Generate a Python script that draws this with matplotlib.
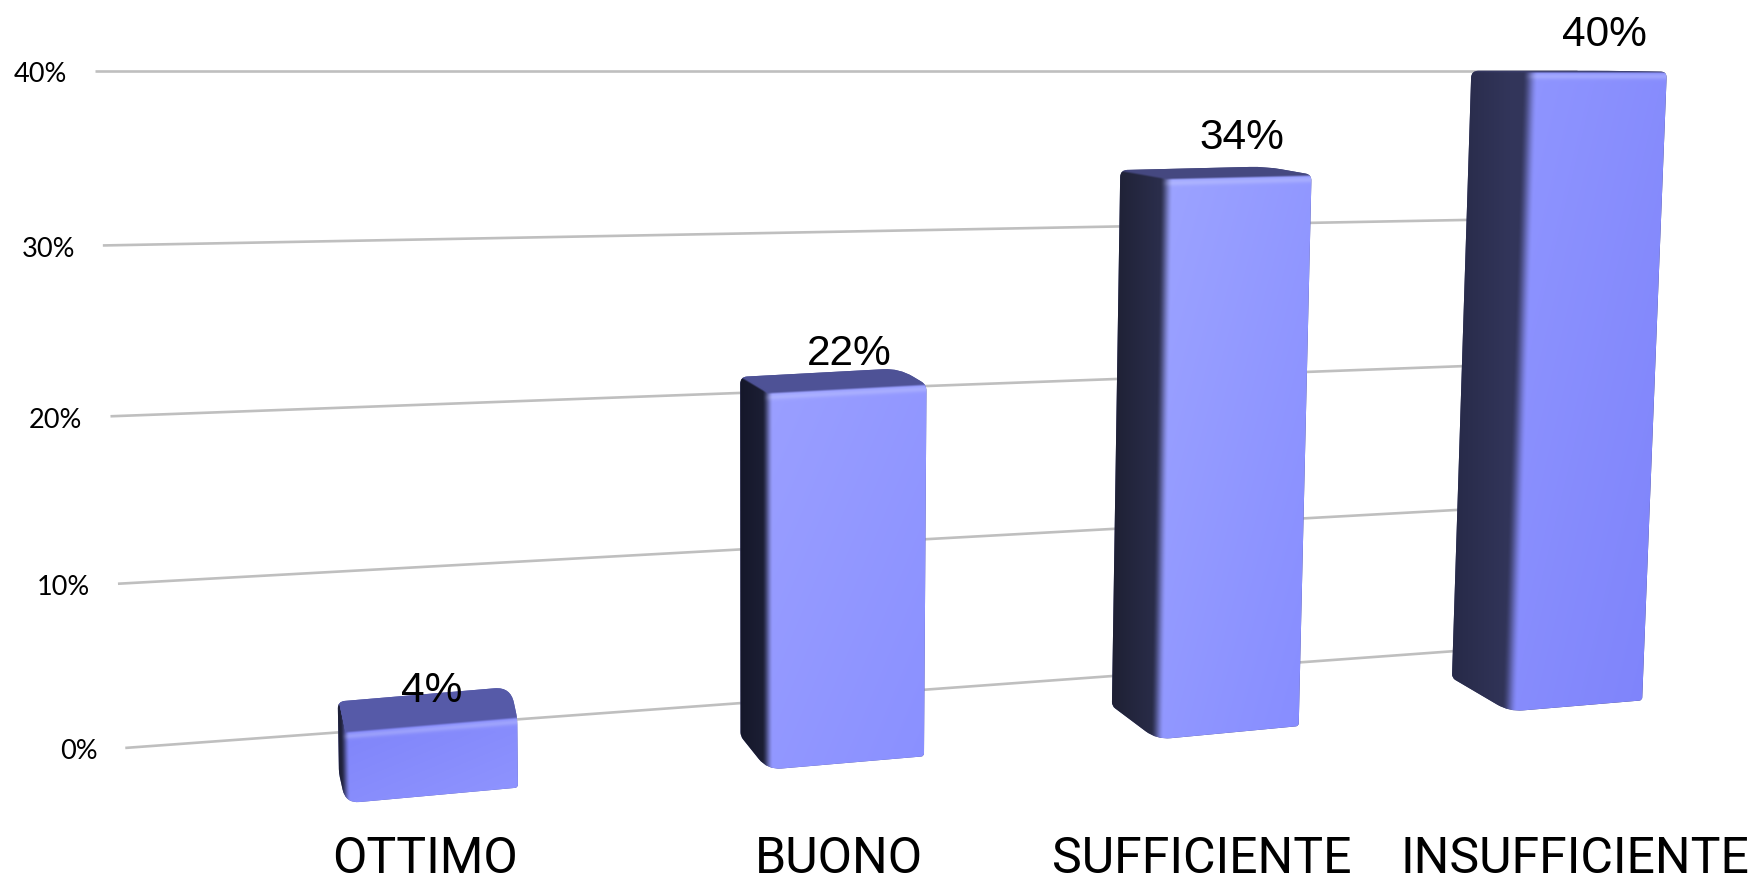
import numpy as np
import matplotlib
matplotlib.use("Agg")
import matplotlib.pyplot as plt
from matplotlib.path import Path
from matplotlib.patches import PathPatch
from matplotlib.colors import to_rgb

# ---- data ----
categories = ["OTTIMO", "BUONO", "SUFFICIENTE", "INSUFFICIENTE"]
values = [4, 22, 34, 40]
ticks = [0, 10, 20, 30, 40]

# ---- layout (perspective camera, in 1568-wide units) ----
S = 1754 / 1568
base_fl = [(309, 719), (686, 689), (1034, 662), (1349, 637)]
base_fr = [(463, 705), (826, 677), (1161, 650), (1468, 627)]
base_bl = [(303, 692), (662, 659), (994, 632), (1298, 607)]
rise_fl = [15.75, 15.3, 14.76, 14.3]
rise_fr = [15.5, 15.1, 14.5, 14.05]
rise_bl = [16.0, 14.6, 14.09, 13.57]
LEAN_C, LEAN_A = 680, 0.0007
wall_corners = {"p00": (112, 669.5), "p10": (1389, 576.5), "p01": (85, 64.5), "p11": (1410, 64.5)}
cat_x = [380, 750, 1074, 1408]
val_x = [386, 759, 1110, 1434]
val_gap = [28, 26, 27, 24]   # baseline offset above the front top edge

# ---- style ----
side_cols = [("#1e2038", "#2a2c50"), ("#15172a", "#1d2036"), ("#1e2034", "#2a2d4a"), ("#272a48", "#32355a")]
front_cols = [("#8085fa", "#9095ff"), ("#9a9fff", "#8a90ff"), ("#9ca3ff", "#878dff"), ("#8f95ff", "#7f84fb")]
top_cols = ["#565aa8", "#4e5296", "#454880", "#3a3d6a"]
soft = [8, 10, 12, 14]
GRID = "#bfbfbf"

fig = plt.figure(figsize=(17.54, 8.78), dpi=100)
ax = fig.add_axes([0, 0, 1, 1])
ax.set_xlim(0, 1754)
ax.set_ylim(878, 0)
ax.axis("off")


def homography(p00, p10, p01, p11):
    src = [(0, 0), (1, 0), (0, 1), (1, 1)]
    dst = [p00, p10, p01, p11]
    A, b = [], []
    for (u, v), (x, y) in zip(src, dst):
        A.append([u, v, 1, 0, 0, 0, -u * x, -v * x]); b.append(x)
        A.append([0, 0, 0, u, v, 1, -u * y, -v * y]); b.append(y)
    h = np.linalg.solve(np.array(A, float), np.array(b, float))
    return np.append(h, 1).reshape(3, 3)


H = homography(**wall_corners)


def wall(u, value):
    q = H @ np.array([u, value / ticks[-1], 1.0])
    return q[0] / q[2] * S, q[1] / q[2] * S


def lift(base, rise, value):
    x, y = base
    return np.array([(x + (x - LEAN_C) * LEAN_A * value) * S, (y - rise * value) * S])


def rounded(points, radii):
    verts, codes = [], []
    n = len(points)
    for i in range(n):
        p, a, c = np.array(points[i]), np.array(points[i - 1]), np.array(points[(i + 1) % n])
        la, lc = np.linalg.norm(a - p), np.linalg.norm(c - p)
        r = min(radii[i], la / 2, lc / 2)
        p0, p1 = p + (a - p) / la * r, p + (c - p) / lc * r
        verts += [p0, p, p1]
        codes += [Path.MOVETO if i == 0 else Path.LINETO, Path.CURVE3, Path.CURVE3]
    verts.append(verts[0]); codes.append(Path.CLOSEPOLY)
    return Path(np.array(verts), codes)


def sstep(t):
    t = np.clip(t, 0, 1)
    return t * t * (3 - 2 * t)


def draw_bar(i, value):
    fl0, fr0, bl0 = np.array(base_fl[i]) * S, np.array(base_fr[i]) * S, np.array(base_bl[i]) * S
    fl1 = lift(base_fl[i], rise_fl[i], value)
    fr1 = lift(base_fr[i], rise_fr[i], value)
    bl1 = lift(base_bl[i], rise_bl[i], value)
    br1 = fr1 + (bl1 - fl1)

    outline = [bl1, br1, fr1, fr0, fl0, bl0]
    path = rounded(outline, [7, 16, 6, 3, 14, 4])

    x0, x1 = min(p[0] for p in outline) - 3, max(p[0] for p in outline) + 3
    y0, y1 = min(p[1] for p in outline) - 3, max(p[1] for p in outline) + 3
    X, Y = np.meshgrid(np.arange(x0, x1), np.arange(y0, y1))

    tv = (Y - fl1[1]) / (fl0[1] - fl1[1])
    xe = fl1[0] + (fl0[0] - fl1[0]) * tv
    w = soft[i] * S
    mix = sstep((X - xe + w / 2) / w)[..., None]

    fx = np.clip((X - xe) / (fr0[0] - fl0[0]), 0, 1)
    fy = np.clip(tv, 0, 1)
    g = ((fx + fy) / 2)[..., None]
    c0, c1 = np.array(to_rgb(front_cols[i][0])), np.array(to_rgb(front_cols[i][1]))
    front = c0 * (1 - g) + c1 * g

    sx = np.clip((X - bl0[0]) / max(fl0[0] - bl0[0], 1), 0, 1)[..., None]
    s0, s1 = np.array(to_rgb(side_cols[i][0])), np.array(to_rgb(side_cols[i][1]))
    side = s0 * (1 - sx) + s1 * sx
    body = side * (1 - mix) + front * mix

    yf = fl1[1] + (fr1[1] - fl1[1]) * (X - fl1[0]) / (fr1[0] - fl1[0])
    ys = bl1[1] + (fl1[1] - bl1[1]) * (X - bl1[0]) / max(fl1[0] - bl1[0], 1)
    rim_w = 3.0
    a = sstep((Y - yf + rim_w / 2) / rim_w)
    b = sstep((Y - ys + rim_w / 2) / rim_w)
    top_mask = np.where(X < fl1[0], 1 - b, 1 - a)[..., None]

    rim = (np.exp(-((Y - yf - 4) / 3.0) ** 2) * mix[..., 0] * 0.28)[..., None]
    body = body * (1 - rim) + np.array([0.85, 0.87, 1.0]) * rim

    top = np.array(to_rgb(top_cols[i]))
    rgb = np.clip(body * (1 - top_mask) + top * top_mask, 0, 1)

    ax.add_patch(PathPatch(path, facecolor=top_cols[i], edgecolor="none", zorder=2))
    im = ax.imshow(rgb, extent=(x0, x1, y1, y0), origin="upper", zorder=3,
                   interpolation="bilinear", aspect="auto")
    im.set_clip_path(PathPatch(path, transform=ax.transData))
    return fl1, fr1


# gridlines and value-axis labels
for t in ticks:
    (xa, ya), (xb, yb) = wall(0, t), wall(1, t)
    ax.plot([xa, xb], [ya, yb], color=GRID, lw=1.9, solid_capstyle="butt", zorder=1)
    ax.text(xa - 25 * S, ya + 2.5 * S, f"{t}%", ha="right", va="center",
            family="Lato", fontsize=19.5, color="black", zorder=5)

# bars, value labels, category labels
for i, (name, v) in enumerate(zip(categories, values)):
    fl, fr = draw_bar(i, v)
    ax.text(val_x[i] * S, fl[1] - val_gap[i] * S, f"{v}%", ha="center", va="baseline",
            family="Liberation Sans", fontsize=30.5, color="black", zorder=6)
    ax.text(cat_x[i] * S, 873, name, ha="center", va="baseline",
            family="Roboto", fontsize=36, color="black", zorder=6)

ax.set_xlim(0, 1754)
ax.set_ylim(878, 0)
fig.savefig("out.png", dpi=100, facecolor="white")
